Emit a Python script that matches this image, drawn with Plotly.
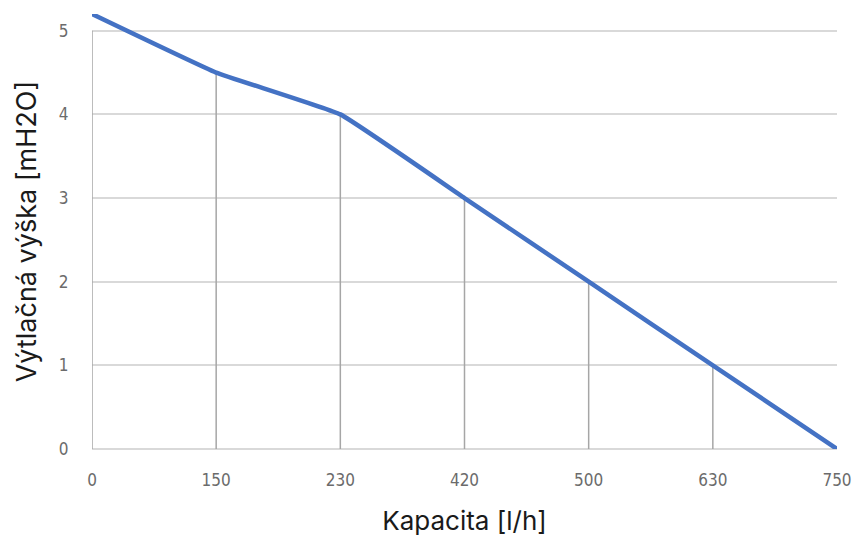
import plotly.graph_objects as go

capacity_labels = ["0", "150", "230", "420", "500", "630", "750"]
head_values = [5.2, 4.5, 4.0, 3.0, 2.0, 1.0, 0.0]
y_ticks = [0, 1, 2, 3, 4, 5]

xpos = list(range(len(capacity_labels)))

fig = go.Figure()

# drop lines from each point to the x axis
for i, (x, y) in enumerate(zip(xpos, head_values)):
    if y <= 0:
        continue
    top = min(y, max(y_ticks)) if i == 0 else y
    fig.add_trace(go.Scatter(x=[x, x], y=[0, top], mode="lines",
                             line=dict(color="#a6a6a6", width=1.5),
                             hoverinfo="skip", showlegend=False))

fig.add_trace(go.Scatter(x=xpos, y=head_values, mode="lines",
                         line=dict(color="#4472C4", width=4.5, shape="spline", smoothing=0.3),
                         showlegend=False))

tick_font = dict(family="Liberation Sans Narrow, DejaVu Sans Condensed, sans-serif", size=17, color="#6b6b6b")
title_font = dict(family="Inter, Noto Sans, sans-serif", size=26, color="#1a1a1a")

fig.update_layout(
    width=853, height=536,
    margin=dict(l=92, r=16, t=14, b=87),
    paper_bgcolor="white", plot_bgcolor="white",
    xaxis=dict(range=[0, len(capacity_labels) - 1], tickmode="array", tickvals=xpos,
               ticktext=capacity_labels, showgrid=False, zeroline=False, showline=False,
               ticks="outside", ticklen=16, tickcolor="rgba(0,0,0,0)", tickfont=tick_font,
               automargin=False,
               title=dict(text="Kapacita [l/h]", standoff=23, font=title_font)),
    yaxis=dict(range=[0, 5.2], tickmode="array", tickvals=y_ticks, showgrid=True,
               gridcolor="#d9d9d9", gridwidth=1.5, zeroline=True, zerolinecolor="#d9d9d9",
               zerolinewidth=1.5, showline=False, ticks="outside", ticklen=19,
               tickcolor="rgba(0,0,0,0)", tickfont=tick_font, automargin=False,
               title=dict(text="Výtlačná výška [mH2O]", standoff=14,
                          font=dict(family="Inter, Noto Sans, sans-serif", size=27, color="#1a1a1a"))),
)

fig.write_html("out.html", config={"displayModeBar": False},
               post_script="document.body.style.margin='0';document.body.style.overflow='hidden';")
